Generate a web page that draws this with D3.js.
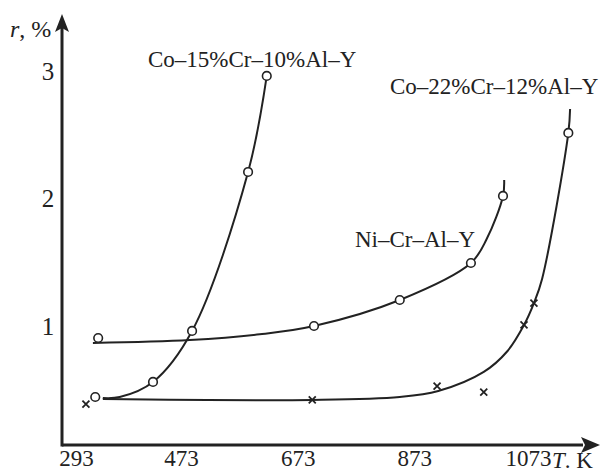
<!DOCTYPE html>
<html>
<head>
<meta charset="utf-8">
<script src="https://cdn.jsdelivr.net/npm/d3@7"></script>
<style>
  body { margin: 0; background: #fff; }
  text { font-family: "Liberation Serif", "Times New Roman", serif; fill: #222; }
</style>
</head>
<body>
<div id="chart"></div>
<script>
// Tick values
var xTicks = [293, 473, 673, 873, 1073];
var yTicks = [1, 2, 3];

// Fitted curves (T, K and r, %)
var co15CurveT = [339, 368, 425, 492, 588, 620];
var co15CurveR = [0.435, 0.443, 0.561, 0.961, 2.208, 2.961];

var co22CurveT = [339, 698, 848, 914, 992, 1032, 1061, 1078, 1092, 1137, 1140];
var co22CurveR = [0.427, 0.420, 0.443, 0.49, 0.64, 0.80, 1.008, 1.180, 1.369, 2.514, 2.702];

var niCurveT = [322, 488, 608, 701, 848, 970, 997, 1025, 1027];
var niCurveR = [0.867, 0.890, 0.935, 1.0, 1.204, 1.494, 1.682, 2.020, 2.145];

// Measured points
var co15PointsT = [326, 425, 492, 588, 620];
var co15PointsR = [0.443, 0.561, 0.961, 2.208, 2.961];

var co22CrossT = [310, 698, 912, 992, 1061, 1078];
var co22CrossR = [0.388, 0.420, 0.529, 0.482, 1.008, 1.180];
var co22PointsT = [1137];
var co22PointsR = [2.514];

var niPointsT = [331, 701, 848, 970, 1025];
var niPointsR = [0.906, 1.0, 1.204, 1.494, 2.020];

// SVG area
var svgWidth = 601;
var svgHeight = 474;
var chartMargin = { top: 14, right: 4, bottom: 29, left: 62 };
var chartWidth = svgWidth - chartMargin.left - chartMargin.right;
var chartHeight = svgHeight - chartMargin.top - chartMargin.bottom;

var svg = d3.select("#chart")
  .append("svg")
  .attr("width", svgWidth)
  .attr("height", svgHeight);

svg.append("rect").attr("width", svgWidth).attr("height", svgHeight).attr("fill", "#fff");

var chartGroup = svg.append("g")
  .attr("transform", `translate(${chartMargin.left}, ${chartMargin.top})`);

// Scales (the figure's axes start a little before the first tick)
var xScale = d3.scaleLinear().domain([293, 1073]).range([14, 469]);
var yScale = d3.scaleLinear().domain([1, 3]).range([312, 57]);

function zip(ts, rs) {
  return ts.map((t, i) => ({ t: t, r: rs[i] }));
}

// Axes lines with arrows
var axisColor = "#222";
chartGroup.append("line")
  .attr("x1", 0).attr("y1", chartHeight)
  .attr("x2", chartWidth - 14).attr("y2", chartHeight)
  .attr("stroke", axisColor).attr("stroke-width", 3);
chartGroup.append("path")
  .attr("d", `M${chartWidth + 3},${chartHeight} L${chartWidth - 16},${chartHeight - 8} L${chartWidth - 12},${chartHeight} L${chartWidth - 16},${chartHeight + 8} Z`)
  .attr("fill", axisColor);

chartGroup.append("line")
  .attr("x1", 0).attr("y1", chartHeight + 1.5)
  .attr("x2", 0).attr("y2", 14)
  .attr("stroke", axisColor).attr("stroke-width", 3);
chartGroup.append("path")
  .attr("d", "M0,0 L-7,18 L0,14 L7,18 Z")
  .attr("fill", axisColor);

// Tick labels
var bottomAxis = d3.axisBottom(xScale).tickValues(xTicks).tickSize(0).tickPadding(5)
  .tickFormat(d3.format("d"));
var xAxis = chartGroup.append("g")
  .attr("transform", `translate(0, ${chartHeight})`)
  .call(bottomAxis);
xAxis.select(".domain").remove();
xAxis.selectAll("text")
  .style("font-size", "23px");
// last label sits tight against the axis title
xAxis.selectAll("text").filter(d => d === 1073)
  .attr("text-anchor", "end")
  .attr("x", 20);

var leftAxis = d3.axisLeft(yScale).tickValues(yTicks).tickSize(0).tickPadding(8)
  .tickFormat(d3.format("d"));
var yAxis = chartGroup.append("g").call(leftAxis);
yAxis.select(".domain").remove();
yAxis.selectAll("text")
  .style("font-size", "25px")
  .attr("text-anchor", "middle")
  .attr("x", -14);

// Axis titles
var yTitle = svg.append("text").attr("x", 10).attr("y", 37).style("font-size", "24px");
yTitle.append("tspan").style("font-style", "italic").text("r");
yTitle.append("tspan").text(", %");

var xTitle = svg.append("text").attr("x", 552).attr("y", 468).style("font-size", "23px");
xTitle.append("tspan").style("font-style", "italic").text("T");
xTitle.append("tspan").text(". K");

// Curves
var line = d3.line()
  .x(d => xScale(d.t))
  .y(d => yScale(d.r))
  .curve(d3.curveCatmullRom.alpha(0.5));

[zip(co15CurveT, co15CurveR), zip(co22CurveT, co22CurveR), zip(niCurveT, niCurveR)]
  .forEach(function(data) {
    chartGroup.append("path")
      .datum(data)
      .attr("d", line)
      .attr("fill", "none")
      .attr("stroke", "#222")
      .attr("stroke-width", 2);
  });

// Circle markers
var circleData = zip(co15PointsT, co15PointsR)
  .concat(zip(co22PointsT, co22PointsR))
  .concat(zip(niPointsT, niPointsR));

chartGroup.selectAll("circle.pt")
  .data(circleData)
  .enter()
  .append("circle")
  .attr("class", "pt")
  .attr("cx", d => xScale(d.t))
  .attr("cy", d => yScale(d.r))
  .attr("r", 4.3)
  .attr("fill", "#fff")
  .attr("stroke", "#222")
  .attr("stroke-width", 1.6);

// Cross markers
var crossSize = 3.5;
chartGroup.selectAll("path.cross")
  .data(zip(co22CrossT, co22CrossR))
  .enter()
  .append("path")
  .attr("class", "cross")
  .attr("transform", d => `translate(${xScale(d.t)}, ${yScale(d.r)})`)
  .attr("d", `M${-crossSize},${-crossSize}L${crossSize},${crossSize}M${-crossSize},${crossSize}L${crossSize},${-crossSize}`)
  .attr("stroke", "#222")
  .attr("stroke-width", 1.8);

// Series labels
svg.append("text").attr("x", 148).attr("y", 67).style("font-size", "23px").text("Co–15%Cr–10%Al–Y");
svg.append("text").attr("x", 390).attr("y", 94).style("font-size", "23px").text("Co–22%Cr–12%Al–Y");
svg.append("text").attr("x", 355).attr("y", 247).style("font-size", "23px").text("Ni–Cr–Al–Y");
</script>
</body>
</html>
